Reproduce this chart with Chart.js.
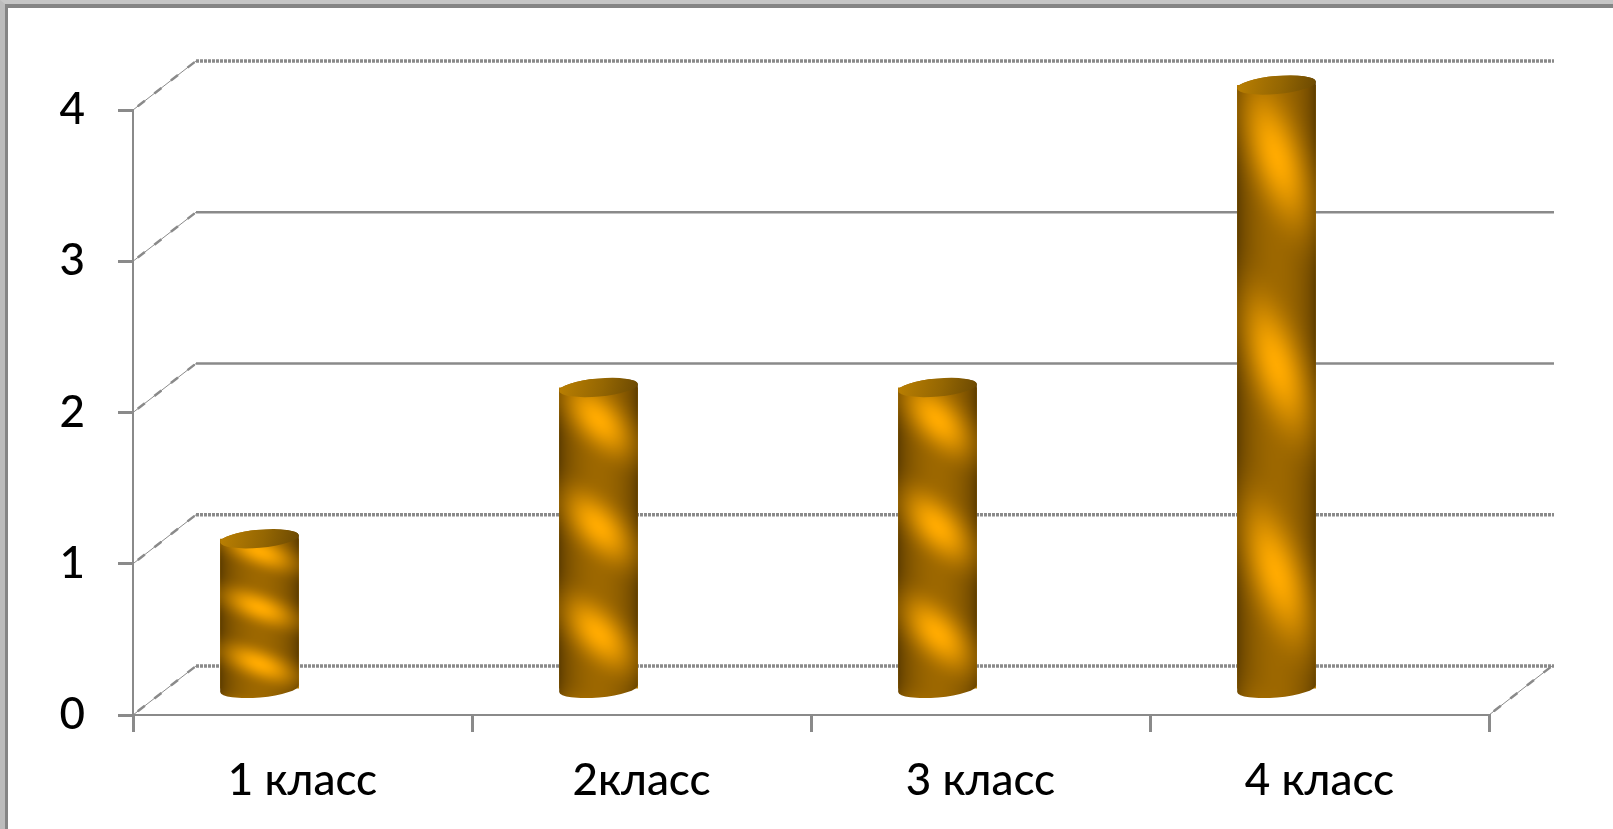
<!DOCTYPE html>
<html>
<head>
<meta charset="utf-8">
<title>Классы</title>
<script src="https://cdn.jsdelivr.net/npm/chart.js@4"></script>
<style>
  html, body { margin: 0; padding: 0; background: #fff; overflow: hidden; }
  #chart { position: absolute; left: 0; top: 0; }
  .frame { position: absolute; left: 0; top: 0; right: 0; bottom: 0; pointer-events: none; border-left: 5px solid #bcbcbc; border-top: 4px solid #c6c6c6; }
  .frame div { position: absolute; left: 0; top: 0; right: 0; bottom: 0; border-left: 3px solid #858585; border-top: 4px solid #858585; }
</style>
</head>
<body>
<canvas id="chart" width="1613" height="829"></canvas>
<div class="frame"><div></div></div>
<script>
const categories = ["1 класс", "2класс", "3 класс", "4 класс"];
const pupils = [1, 2, 2, 4];
const valueTicks = [0, 1, 2, 3, 4];

const axisGrey = "#8a8a8a";
const labelFont = { family: "Lato, 'Noto Sans', sans-serif", size: 44, weight: "500" };

// fake 3d: offset of the back wall, and of the plane the columns stand in
const wallShift = { x: 63, y: -49 };
const columnShift = { x: -43, y: -25 };
const capRadiusY = 9;
const capTilt = -0.09;

function makeColumnTexture() {
  const canvas = document.createElement("canvas");
  canvas.width = 80;
  canvas.height = 400;
  const ctx = canvas.getContext("2d");
  const img = ctx.createImageData(canvas.width, canvas.height);

  for (let y = 0; y < canvas.height; y += 1) {
    for (let x = 0; x < canvas.width; x += 1) {
      const u = (x + 0.5) / canvas.width;
      const v = (y + 0.5) / canvas.height;
      const round = Math.pow(Math.sin(Math.PI * u), 0.6);
      const wave = 0.5 + 0.5 * Math.cos((2 * Math.PI * (v - 0.13 - 0.15 * (u - 0.5))) / 0.335);
      const band = Math.pow(wave, 1.6);
      const t = 0.42 * round + band * (0.58 * round * round + 0.3 * (1 - round));
      const i = (y * canvas.width + x) * 4;
      img.data[i] = 85 + 170 * t;
      img.data[i + 1] = 55 + 115 * t;
      img.data[i + 2] = 0;
      img.data[i + 3] = 255;
    }
  }
  ctx.putImageData(img, 0, 0);
  return canvas;
}

const columnTexture = makeColumnTexture();

const walls = {
  id: "walls",
  beforeDatasetsDraw(chart) {
    const { ctx, scales } = chart;
    const left = scales.x.left;
    const right = scales.x.right;

    function sideLine(x, y) {
      ctx.lineWidth = 1;
      ctx.setLineDash([]);
      ctx.beginPath();
      ctx.moveTo(x, y);
      ctx.lineTo(x + wallShift.x, y + wallShift.y);
      ctx.stroke();
      // the chunky bits along the diagonal
      ctx.lineWidth = 2.5;
      ctx.setLineDash([9, 12]);
      ctx.lineDashOffset = -6;
      ctx.stroke();
      ctx.lineDashOffset = 0;
    }

    ctx.save();
    ctx.strokeStyle = axisGrey;
    valueTicks.forEach((tick) => {
      const y = scales.y.getPixelForValue(tick);

      // back wall line, the rough ones come out dotted in the original
      const rough = tick === 0 || tick === 1 || tick === 4;
      ctx.lineWidth = rough ? 3.5 : 2.5;
      ctx.setLineDash(rough ? [3, 1] : []);
      ctx.beginPath();
      ctx.moveTo(left + wallShift.x, y + wallShift.y);
      ctx.lineTo(right + wallShift.x + 2, y + wallShift.y);
      ctx.stroke();

      sideLine(left, y);
    });

    // floor, right side
    sideLine(right, scales.y.getPixelForValue(0));
    ctx.restore();
  },
};

function drawCylinder(ctx, bar) {
  const rx = bar.width / 2;
  const top = bar.y;
  const bottom = bar.base;

  ctx.save();
  ctx.beginPath();
  ctx.ellipse(bar.x, bottom, rx, capRadiusY, capTilt, 0, Math.PI);
  ctx.ellipse(bar.x, top, rx, capRadiusY, capTilt, Math.PI, Math.PI * 2);
  ctx.closePath();
  ctx.clip();
  ctx.drawImage(columnTexture, bar.x - rx, top - capRadiusY, bar.width, bottom - top + capRadiusY * 2);
  ctx.restore();

  const cap = ctx.createLinearGradient(bar.x - rx, top - capRadiusY, bar.x + rx, top + capRadiusY);
  cap.addColorStop(0, "#bb8002");
  cap.addColorStop(0.55, "#946602");
  cap.addColorStop(1, "#6a4802");
  ctx.fillStyle = cap;
  ctx.beginPath();
  ctx.ellipse(bar.x, top, rx, capRadiusY, capTilt, 0, Math.PI * 2);
  ctx.fill();
}

const cylinders = {
  id: "cylinders",
  beforeDatasetDraw(chart) {
    chart.ctx.save();
    chart.ctx.translate(columnShift.x, columnShift.y);
  },
  afterDatasetDraw(chart, args) {
    args.meta.data.forEach((bar) => drawCylinder(chart.ctx, bar));
    chart.ctx.restore();
  },
};

new Chart(document.getElementById("chart"), {
  type: "bar",
  data: {
    labels: categories,
    datasets: [{
      data: pupils,
      backgroundColor: "#b87c00",
      categoryPercentage: 1,
      barPercentage: 0.233,
    }],
  },
  plugins: [walls, cylinders],
  options: {
    responsive: false,
    animation: false,
    layout: { padding: { top: 110, right: 124 } },
    plugins: { legend: { display: false }, tooltip: { enabled: false } },
    scales: {
      x: {
        afterFit: (scale) => { scale.height = 114; },
        grid: { offset: true, drawOnChartArea: false, color: axisGrey, lineWidth: 3, tickLength: 17 },
        border: { color: axisGrey, width: 2 },
        ticks: { color: "#000", font: labelFont, padding: 22, maxRotation: 0, autoSkip: false },
      },
      y: {
        min: 0,
        max: 4,
        afterFit: (scale) => { scale.width = 133; },
        grid: { drawOnChartArea: false, color: axisGrey, lineWidth: 3, tickLength: 15 },
        border: { color: axisGrey, width: 2 },
        ticks: { color: "#000", font: labelFont, padding: 33, stepSize: 1 },
      },
    },
  },
});
</script>
</body>
</html>
